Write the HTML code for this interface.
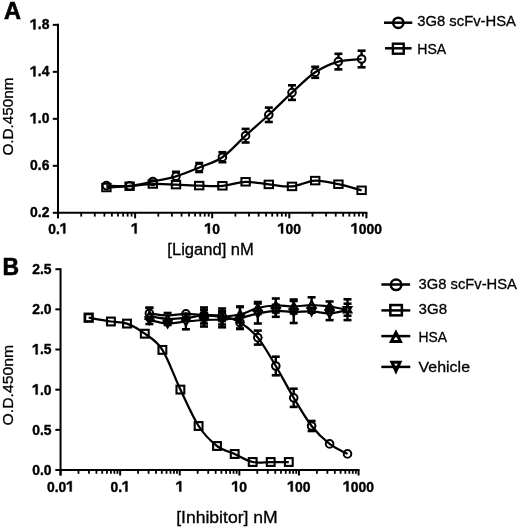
<!DOCTYPE html>
<html><head><meta charset="utf-8"><style>
html,body{margin:0;padding:0;background:#fff;}
svg{display:block;will-change:transform;}
text{font-family:"Liberation Sans", sans-serif;fill:#000;stroke:none;}
</style></head><body>
<svg width="520" height="527" viewBox="0 0 520 527">
<rect width="520" height="527" fill="#fff"/>
<g stroke="#000" fill="none" stroke-linecap="butt">
<line x1="58.00" y1="23.85" x2="58.00" y2="218.30" stroke-width="2"/>
<line x1="52.80" y1="212.80" x2="58.00" y2="212.80" stroke-width="2"/>
<text x="30.08" y="217.40" font-size="15.0" font-weight="bold" text-anchor="start" textLength="7.73" lengthAdjust="spacingAndGlyphs" style="stroke:#000;stroke-width:0.4px">0</text>
<text x="37.81" y="217.40" font-size="15.0" font-weight="bold" text-anchor="start" textLength="3.86" lengthAdjust="spacingAndGlyphs" style="stroke:#000;stroke-width:0.4px">.</text>
<text x="41.67" y="217.40" font-size="15.0" font-weight="bold" text-anchor="start" textLength="7.73" lengthAdjust="spacingAndGlyphs" style="stroke:#000;stroke-width:0.4px">2</text>
<line x1="52.80" y1="165.81" x2="58.00" y2="165.81" stroke-width="2"/>
<text x="30.08" y="170.41" font-size="15.0" font-weight="bold" text-anchor="start" textLength="7.73" lengthAdjust="spacingAndGlyphs" style="stroke:#000;stroke-width:0.4px">0</text>
<text x="37.81" y="170.41" font-size="15.0" font-weight="bold" text-anchor="start" textLength="3.86" lengthAdjust="spacingAndGlyphs" style="stroke:#000;stroke-width:0.4px">.</text>
<text x="41.67" y="170.41" font-size="15.0" font-weight="bold" text-anchor="start" textLength="7.73" lengthAdjust="spacingAndGlyphs" style="stroke:#000;stroke-width:0.4px">6</text>
<line x1="52.80" y1="118.82" x2="58.00" y2="118.82" stroke-width="2"/>
<path d="M790,0 L495,0 L495,1120 L70,900 L70,1160 L505,1409 L790,1409 Z" transform="translate(30.08,123.42) scale(0.00679,-0.00732)" fill="#000" stroke="#000" stroke-width="0.4" vector-effect="non-scaling-stroke"/>
<text x="37.81" y="123.42" font-size="15.0" font-weight="bold" text-anchor="start" textLength="3.86" lengthAdjust="spacingAndGlyphs" style="stroke:#000;stroke-width:0.4px">.</text>
<text x="41.67" y="123.42" font-size="15.0" font-weight="bold" text-anchor="start" textLength="7.73" lengthAdjust="spacingAndGlyphs" style="stroke:#000;stroke-width:0.4px">0</text>
<line x1="52.80" y1="71.84" x2="58.00" y2="71.84" stroke-width="2"/>
<path d="M790,0 L495,0 L495,1120 L70,900 L70,1160 L505,1409 L790,1409 Z" transform="translate(30.08,76.44) scale(0.00679,-0.00732)" fill="#000" stroke="#000" stroke-width="0.4" vector-effect="non-scaling-stroke"/>
<text x="37.81" y="76.44" font-size="15.0" font-weight="bold" text-anchor="start" textLength="3.86" lengthAdjust="spacingAndGlyphs" style="stroke:#000;stroke-width:0.4px">.</text>
<text x="41.67" y="76.44" font-size="15.0" font-weight="bold" text-anchor="start" textLength="7.73" lengthAdjust="spacingAndGlyphs" style="stroke:#000;stroke-width:0.4px">4</text>
<line x1="52.80" y1="24.85" x2="58.00" y2="24.85" stroke-width="2"/>
<path d="M790,0 L495,0 L495,1120 L70,900 L70,1160 L505,1409 L790,1409 Z" transform="translate(30.08,29.45) scale(0.00679,-0.00732)" fill="#000" stroke="#000" stroke-width="0.4" vector-effect="non-scaling-stroke"/>
<text x="37.81" y="29.45" font-size="15.0" font-weight="bold" text-anchor="start" textLength="3.86" lengthAdjust="spacingAndGlyphs" style="stroke:#000;stroke-width:0.4px">.</text>
<text x="41.67" y="29.45" font-size="15.0" font-weight="bold" text-anchor="start" textLength="7.73" lengthAdjust="spacingAndGlyphs" style="stroke:#000;stroke-width:0.4px">8</text>
<line x1="57.00" y1="212.80" x2="367.40" y2="212.80" stroke-width="2"/>
<line x1="58.00" y1="212.80" x2="58.00" y2="218.30" stroke-width="2"/>
<text x="48.34" y="233.50" font-size="15.0" font-weight="bold" text-anchor="start" textLength="7.73" lengthAdjust="spacingAndGlyphs" style="stroke:#000;stroke-width:0.4px">0</text>
<text x="56.07" y="233.50" font-size="15.0" font-weight="bold" text-anchor="start" textLength="3.86" lengthAdjust="spacingAndGlyphs" style="stroke:#000;stroke-width:0.4px">.</text>
<path d="M790,0 L495,0 L495,1120 L70,900 L70,1160 L505,1409 L790,1409 Z" transform="translate(59.93,233.50) scale(0.00679,-0.00732)" fill="#000" stroke="#000" stroke-width="0.4" vector-effect="non-scaling-stroke"/>
<line x1="81.21" y1="212.80" x2="81.21" y2="216.60" stroke-width="1.8"/>
<line x1="94.79" y1="212.80" x2="94.79" y2="216.60" stroke-width="1.8"/>
<line x1="104.42" y1="212.80" x2="104.42" y2="216.60" stroke-width="1.8"/>
<line x1="111.89" y1="212.80" x2="111.89" y2="216.60" stroke-width="1.8"/>
<line x1="118.00" y1="212.80" x2="118.00" y2="216.60" stroke-width="1.8"/>
<line x1="123.16" y1="212.80" x2="123.16" y2="216.60" stroke-width="1.8"/>
<line x1="127.63" y1="212.80" x2="127.63" y2="216.60" stroke-width="1.8"/>
<line x1="131.57" y1="212.80" x2="131.57" y2="216.60" stroke-width="1.8"/>
<line x1="135.10" y1="212.80" x2="135.10" y2="218.30" stroke-width="2"/>
<path d="M790,0 L495,0 L495,1120 L70,900 L70,1160 L505,1409 L790,1409 Z" transform="translate(131.24,233.50) scale(0.00679,-0.00732)" fill="#000" stroke="#000" stroke-width="0.4" vector-effect="non-scaling-stroke"/>
<line x1="158.31" y1="212.80" x2="158.31" y2="216.60" stroke-width="1.8"/>
<line x1="171.89" y1="212.80" x2="171.89" y2="216.60" stroke-width="1.8"/>
<line x1="181.52" y1="212.80" x2="181.52" y2="216.60" stroke-width="1.8"/>
<line x1="188.99" y1="212.80" x2="188.99" y2="216.60" stroke-width="1.8"/>
<line x1="195.10" y1="212.80" x2="195.10" y2="216.60" stroke-width="1.8"/>
<line x1="200.26" y1="212.80" x2="200.26" y2="216.60" stroke-width="1.8"/>
<line x1="204.73" y1="212.80" x2="204.73" y2="216.60" stroke-width="1.8"/>
<line x1="208.67" y1="212.80" x2="208.67" y2="216.60" stroke-width="1.8"/>
<line x1="212.20" y1="212.80" x2="212.20" y2="218.30" stroke-width="2"/>
<path d="M790,0 L495,0 L495,1120 L70,900 L70,1160 L505,1409 L790,1409 Z" transform="translate(204.47,233.50) scale(0.00679,-0.00732)" fill="#000" stroke="#000" stroke-width="0.4" vector-effect="non-scaling-stroke"/>
<text x="212.20" y="233.50" font-size="15.0" font-weight="bold" text-anchor="start" textLength="7.73" lengthAdjust="spacingAndGlyphs" style="stroke:#000;stroke-width:0.4px">0</text>
<line x1="235.41" y1="212.80" x2="235.41" y2="216.60" stroke-width="1.8"/>
<line x1="248.99" y1="212.80" x2="248.99" y2="216.60" stroke-width="1.8"/>
<line x1="258.62" y1="212.80" x2="258.62" y2="216.60" stroke-width="1.8"/>
<line x1="266.09" y1="212.80" x2="266.09" y2="216.60" stroke-width="1.8"/>
<line x1="272.20" y1="212.80" x2="272.20" y2="216.60" stroke-width="1.8"/>
<line x1="277.36" y1="212.80" x2="277.36" y2="216.60" stroke-width="1.8"/>
<line x1="281.83" y1="212.80" x2="281.83" y2="216.60" stroke-width="1.8"/>
<line x1="285.77" y1="212.80" x2="285.77" y2="216.60" stroke-width="1.8"/>
<line x1="289.30" y1="212.80" x2="289.30" y2="218.30" stroke-width="2"/>
<path d="M790,0 L495,0 L495,1120 L70,900 L70,1160 L505,1409 L790,1409 Z" transform="translate(277.71,233.50) scale(0.00679,-0.00732)" fill="#000" stroke="#000" stroke-width="0.4" vector-effect="non-scaling-stroke"/>
<text x="285.44" y="233.50" font-size="15.0" font-weight="bold" text-anchor="start" textLength="7.73" lengthAdjust="spacingAndGlyphs" style="stroke:#000;stroke-width:0.4px">0</text>
<text x="293.16" y="233.50" font-size="15.0" font-weight="bold" text-anchor="start" textLength="7.73" lengthAdjust="spacingAndGlyphs" style="stroke:#000;stroke-width:0.4px">0</text>
<line x1="312.51" y1="212.80" x2="312.51" y2="216.60" stroke-width="1.8"/>
<line x1="326.09" y1="212.80" x2="326.09" y2="216.60" stroke-width="1.8"/>
<line x1="335.72" y1="212.80" x2="335.72" y2="216.60" stroke-width="1.8"/>
<line x1="343.19" y1="212.80" x2="343.19" y2="216.60" stroke-width="1.8"/>
<line x1="349.30" y1="212.80" x2="349.30" y2="216.60" stroke-width="1.8"/>
<line x1="354.46" y1="212.80" x2="354.46" y2="216.60" stroke-width="1.8"/>
<line x1="358.93" y1="212.80" x2="358.93" y2="216.60" stroke-width="1.8"/>
<line x1="362.87" y1="212.80" x2="362.87" y2="216.60" stroke-width="1.8"/>
<line x1="366.40" y1="212.80" x2="366.40" y2="218.30" stroke-width="2"/>
<path d="M790,0 L495,0 L495,1120 L70,900 L70,1160 L505,1409 L790,1409 Z" transform="translate(350.94,233.50) scale(0.00679,-0.00732)" fill="#000" stroke="#000" stroke-width="0.4" vector-effect="non-scaling-stroke"/>
<text x="358.67" y="233.50" font-size="15.0" font-weight="bold" text-anchor="start" textLength="7.73" lengthAdjust="spacingAndGlyphs" style="stroke:#000;stroke-width:0.4px">0</text>
<text x="366.40" y="233.50" font-size="15.0" font-weight="bold" text-anchor="start" textLength="7.73" lengthAdjust="spacingAndGlyphs" style="stroke:#000;stroke-width:0.4px">0</text>
<text x="374.13" y="233.50" font-size="15.0" font-weight="bold" text-anchor="start" textLength="7.73" lengthAdjust="spacingAndGlyphs" style="stroke:#000;stroke-width:0.4px">0</text>
<text x="210.60" y="255.30" font-size="16" font-weight="normal" text-anchor="middle" textLength="86.5" lengthAdjust="spacingAndGlyphs" style="stroke:#000;stroke-width:0.3px">[Ligand] nM</text>
<text transform="translate(13.3,116.6) rotate(-90)" x="0" y="0" font-size="15.2" text-anchor="middle" textLength="78" lengthAdjust="spacingAndGlyphs" style="stroke:#000;stroke-width:0.3px">O.D.450nm</text>
<text x="4.00" y="19.10" font-size="24.6" font-weight="bold" text-anchor="start" textLength="17.0" lengthAdjust="spacingAndGlyphs" style="stroke:#000;stroke-width:0.6px">A</text>
<path d="M106.40,187.50 C110.27,187.28 121.87,186.78 129.60,186.20 C137.33,185.62 145.07,184.27 152.80,184.00 C160.53,183.73 168.27,184.33 176.00,184.60 C183.73,184.87 191.47,185.40 199.20,185.60 C206.93,185.80 214.67,186.43 222.40,185.80 C230.13,185.17 237.87,182.03 245.60,181.80 C253.33,181.57 261.07,183.63 268.80,184.40 C276.53,185.17 284.27,187.03 292.00,186.40 C299.73,185.77 307.47,180.97 315.20,180.60 C322.93,180.23 330.67,182.58 338.40,184.20 C346.13,185.82 357.73,189.28 361.60,190.30" fill="none" stroke-width="2.25" stroke-linejoin="round"/>
<path d="M106.40,185.60 C110.27,185.63 121.87,186.48 129.60,185.80 C137.33,185.12 145.07,183.08 152.80,181.50 C160.53,179.92 168.27,178.63 176.00,176.30 C183.73,173.97 191.47,170.68 199.20,167.50 C206.93,164.32 214.67,162.50 222.40,157.20 C230.13,151.90 237.87,142.77 245.60,135.70 C253.33,128.63 261.07,121.98 268.80,114.80 C276.53,107.62 284.27,99.68 292.00,92.60 C299.73,85.52 307.47,77.47 315.20,72.30 C322.93,67.13 330.67,63.82 338.40,61.60 C346.13,59.38 357.73,59.43 361.60,59.00" fill="none" stroke-width="2.25" stroke-linejoin="round"/>
<rect x="102.20" y="183.75" width="8.4" height="7.5" fill="none" stroke-width="2.0"/>
<rect x="125.40" y="182.45" width="8.4" height="7.5" fill="none" stroke-width="2.0"/>
<rect x="148.60" y="180.25" width="8.4" height="7.5" fill="none" stroke-width="2.0"/>
<rect x="171.80" y="180.85" width="8.4" height="7.5" fill="none" stroke-width="2.0"/>
<rect x="195.00" y="181.85" width="8.4" height="7.5" fill="none" stroke-width="2.0"/>
<rect x="218.20" y="182.05" width="8.4" height="7.5" fill="none" stroke-width="2.0"/>
<rect x="241.40" y="178.05" width="8.4" height="7.5" fill="none" stroke-width="2.0"/>
<rect x="264.60" y="180.65" width="8.4" height="7.5" fill="none" stroke-width="2.0"/>
<rect x="287.80" y="182.65" width="8.4" height="7.5" fill="none" stroke-width="2.0"/>
<rect x="311.00" y="176.85" width="8.4" height="7.5" fill="none" stroke-width="2.0"/>
<rect x="334.20" y="180.45" width="8.4" height="7.5" fill="none" stroke-width="2.0"/>
<rect x="357.40" y="186.55" width="8.4" height="7.5" fill="none" stroke-width="2.0"/>
<circle cx="106.40" cy="185.60" r="3.8" fill="none" stroke-width="2.0"/>
<circle cx="129.60" cy="185.80" r="3.8" fill="none" stroke-width="2.0"/>
<circle cx="152.80" cy="181.50" r="3.8" fill="none" stroke-width="2.0"/>
<line x1="176.00" y1="172.50" x2="176.00" y2="171.80" stroke-width="2.4"/>
<line x1="172.00" y1="171.80" x2="180.00" y2="171.80" stroke-width="2.6"/>
<line x1="176.00" y1="180.10" x2="176.00" y2="180.80" stroke-width="2.4"/>
<line x1="172.00" y1="180.80" x2="180.00" y2="180.80" stroke-width="2.6"/>
<circle cx="176.00" cy="176.30" r="3.8" fill="none" stroke-width="2.0"/>
<line x1="199.20" y1="163.70" x2="199.20" y2="163.00" stroke-width="2.4"/>
<line x1="195.20" y1="163.00" x2="203.20" y2="163.00" stroke-width="2.6"/>
<line x1="199.20" y1="171.30" x2="199.20" y2="172.00" stroke-width="2.4"/>
<line x1="195.20" y1="172.00" x2="203.20" y2="172.00" stroke-width="2.6"/>
<circle cx="199.20" cy="167.50" r="3.8" fill="none" stroke-width="2.0"/>
<line x1="222.40" y1="153.40" x2="222.40" y2="152.20" stroke-width="2.4"/>
<line x1="218.40" y1="152.20" x2="226.40" y2="152.20" stroke-width="2.6"/>
<line x1="222.40" y1="161.00" x2="222.40" y2="162.20" stroke-width="2.4"/>
<line x1="218.40" y1="162.20" x2="226.40" y2="162.20" stroke-width="2.6"/>
<circle cx="222.40" cy="157.20" r="3.8" fill="none" stroke-width="2.0"/>
<line x1="245.60" y1="131.90" x2="245.60" y2="128.90" stroke-width="2.4"/>
<line x1="241.60" y1="128.90" x2="249.60" y2="128.90" stroke-width="2.6"/>
<line x1="245.60" y1="139.50" x2="245.60" y2="142.50" stroke-width="2.4"/>
<line x1="241.60" y1="142.50" x2="249.60" y2="142.50" stroke-width="2.6"/>
<circle cx="245.60" cy="135.70" r="3.8" fill="none" stroke-width="2.0"/>
<line x1="268.80" y1="111.00" x2="268.80" y2="107.60" stroke-width="2.4"/>
<line x1="264.80" y1="107.60" x2="272.80" y2="107.60" stroke-width="2.6"/>
<line x1="268.80" y1="118.60" x2="268.80" y2="122.00" stroke-width="2.4"/>
<line x1="264.80" y1="122.00" x2="272.80" y2="122.00" stroke-width="2.6"/>
<circle cx="268.80" cy="114.80" r="3.8" fill="none" stroke-width="2.0"/>
<line x1="292.00" y1="88.80" x2="292.00" y2="85.30" stroke-width="2.4"/>
<line x1="288.00" y1="85.30" x2="296.00" y2="85.30" stroke-width="2.6"/>
<line x1="292.00" y1="96.40" x2="292.00" y2="99.90" stroke-width="2.4"/>
<line x1="288.00" y1="99.90" x2="296.00" y2="99.90" stroke-width="2.6"/>
<circle cx="292.00" cy="92.60" r="3.8" fill="none" stroke-width="2.0"/>
<line x1="315.20" y1="68.50" x2="315.20" y2="66.80" stroke-width="2.4"/>
<line x1="311.20" y1="66.80" x2="319.20" y2="66.80" stroke-width="2.6"/>
<line x1="315.20" y1="76.10" x2="315.20" y2="77.80" stroke-width="2.4"/>
<line x1="311.20" y1="77.80" x2="319.20" y2="77.80" stroke-width="2.6"/>
<circle cx="315.20" cy="72.30" r="3.8" fill="none" stroke-width="2.0"/>
<line x1="338.40" y1="57.80" x2="338.40" y2="53.80" stroke-width="2.4"/>
<line x1="334.40" y1="53.80" x2="342.40" y2="53.80" stroke-width="2.6"/>
<line x1="338.40" y1="65.40" x2="338.40" y2="69.40" stroke-width="2.4"/>
<line x1="334.40" y1="69.40" x2="342.40" y2="69.40" stroke-width="2.6"/>
<circle cx="338.40" cy="61.60" r="3.8" fill="none" stroke-width="2.0"/>
<line x1="361.60" y1="55.20" x2="361.60" y2="50.70" stroke-width="2.4"/>
<line x1="357.60" y1="50.70" x2="365.60" y2="50.70" stroke-width="2.6"/>
<line x1="361.60" y1="62.80" x2="361.60" y2="67.30" stroke-width="2.4"/>
<line x1="357.60" y1="67.30" x2="365.60" y2="67.30" stroke-width="2.6"/>
<circle cx="361.60" cy="59.00" r="3.8" fill="none" stroke-width="2.0"/>
<line x1="384.00" y1="22.70" x2="412.30" y2="22.70" stroke-width="2.5"/>
<circle cx="398.30" cy="22.80" r="5.15" fill="none" stroke-width="2.5"/>
<text x="417.20" y="25.80" font-size="15.3" font-weight="normal" text-anchor="start" textLength="98.8" lengthAdjust="spacingAndGlyphs" style="stroke:#000;stroke-width:0.3px">3G8 scFv-HSA</text>
<line x1="385.00" y1="48.30" x2="411.60" y2="48.30" stroke-width="2.5"/>
<rect x="392.90" y="43.70" width="10.8" height="10.0" fill="none" stroke-width="2.4"/>
<text x="417.30" y="53.60" font-size="15.3" font-weight="normal" text-anchor="start" textLength="28.9" lengthAdjust="spacingAndGlyphs" style="stroke:#000;stroke-width:0.3px">HSA</text>
<line x1="60.55" y1="268.20" x2="60.55" y2="475.50" stroke-width="2"/>
<line x1="55.35" y1="470.00" x2="60.55" y2="470.00" stroke-width="2"/>
<text x="32.28" y="474.90" font-size="15.0" font-weight="bold" text-anchor="start" textLength="7.73" lengthAdjust="spacingAndGlyphs" style="stroke:#000;stroke-width:0.4px">0</text>
<text x="40.01" y="474.90" font-size="15.0" font-weight="bold" text-anchor="start" textLength="3.86" lengthAdjust="spacingAndGlyphs" style="stroke:#000;stroke-width:0.4px">.</text>
<text x="43.87" y="474.90" font-size="15.0" font-weight="bold" text-anchor="start" textLength="7.73" lengthAdjust="spacingAndGlyphs" style="stroke:#000;stroke-width:0.4px">0</text>
<line x1="55.35" y1="429.84" x2="60.55" y2="429.84" stroke-width="2"/>
<text x="32.28" y="434.74" font-size="15.0" font-weight="bold" text-anchor="start" textLength="7.73" lengthAdjust="spacingAndGlyphs" style="stroke:#000;stroke-width:0.4px">0</text>
<text x="40.01" y="434.74" font-size="15.0" font-weight="bold" text-anchor="start" textLength="3.86" lengthAdjust="spacingAndGlyphs" style="stroke:#000;stroke-width:0.4px">.</text>
<text x="43.87" y="434.74" font-size="15.0" font-weight="bold" text-anchor="start" textLength="7.73" lengthAdjust="spacingAndGlyphs" style="stroke:#000;stroke-width:0.4px">5</text>
<line x1="55.35" y1="389.68" x2="60.55" y2="389.68" stroke-width="2"/>
<path d="M790,0 L495,0 L495,1120 L70,900 L70,1160 L505,1409 L790,1409 Z" transform="translate(32.28,394.58) scale(0.00679,-0.00732)" fill="#000" stroke="#000" stroke-width="0.4" vector-effect="non-scaling-stroke"/>
<text x="40.01" y="394.58" font-size="15.0" font-weight="bold" text-anchor="start" textLength="3.86" lengthAdjust="spacingAndGlyphs" style="stroke:#000;stroke-width:0.4px">.</text>
<text x="43.87" y="394.58" font-size="15.0" font-weight="bold" text-anchor="start" textLength="7.73" lengthAdjust="spacingAndGlyphs" style="stroke:#000;stroke-width:0.4px">0</text>
<line x1="55.35" y1="349.52" x2="60.55" y2="349.52" stroke-width="2"/>
<path d="M790,0 L495,0 L495,1120 L70,900 L70,1160 L505,1409 L790,1409 Z" transform="translate(32.28,354.42) scale(0.00679,-0.00732)" fill="#000" stroke="#000" stroke-width="0.4" vector-effect="non-scaling-stroke"/>
<text x="40.01" y="354.42" font-size="15.0" font-weight="bold" text-anchor="start" textLength="3.86" lengthAdjust="spacingAndGlyphs" style="stroke:#000;stroke-width:0.4px">.</text>
<text x="43.87" y="354.42" font-size="15.0" font-weight="bold" text-anchor="start" textLength="7.73" lengthAdjust="spacingAndGlyphs" style="stroke:#000;stroke-width:0.4px">5</text>
<line x1="55.35" y1="309.36" x2="60.55" y2="309.36" stroke-width="2"/>
<text x="32.28" y="314.26" font-size="15.0" font-weight="bold" text-anchor="start" textLength="7.73" lengthAdjust="spacingAndGlyphs" style="stroke:#000;stroke-width:0.4px">2</text>
<text x="40.01" y="314.26" font-size="15.0" font-weight="bold" text-anchor="start" textLength="3.86" lengthAdjust="spacingAndGlyphs" style="stroke:#000;stroke-width:0.4px">.</text>
<text x="43.87" y="314.26" font-size="15.0" font-weight="bold" text-anchor="start" textLength="7.73" lengthAdjust="spacingAndGlyphs" style="stroke:#000;stroke-width:0.4px">0</text>
<line x1="55.35" y1="269.20" x2="60.55" y2="269.20" stroke-width="2"/>
<text x="32.28" y="274.10" font-size="15.0" font-weight="bold" text-anchor="start" textLength="7.73" lengthAdjust="spacingAndGlyphs" style="stroke:#000;stroke-width:0.4px">2</text>
<text x="40.01" y="274.10" font-size="15.0" font-weight="bold" text-anchor="start" textLength="3.86" lengthAdjust="spacingAndGlyphs" style="stroke:#000;stroke-width:0.4px">.</text>
<text x="43.87" y="274.10" font-size="15.0" font-weight="bold" text-anchor="start" textLength="7.73" lengthAdjust="spacingAndGlyphs" style="stroke:#000;stroke-width:0.4px">5</text>
<line x1="59.55" y1="470.00" x2="359.55" y2="470.00" stroke-width="2"/>
<line x1="60.55" y1="470.00" x2="60.55" y2="475.50" stroke-width="2"/>
<text x="47.03" y="491.50" font-size="15.0" font-weight="bold" text-anchor="start" textLength="7.73" lengthAdjust="spacingAndGlyphs" style="stroke:#000;stroke-width:0.4px">0</text>
<text x="54.75" y="491.50" font-size="15.0" font-weight="bold" text-anchor="start" textLength="3.86" lengthAdjust="spacingAndGlyphs" style="stroke:#000;stroke-width:0.4px">.</text>
<text x="58.62" y="491.50" font-size="15.0" font-weight="bold" text-anchor="start" textLength="7.73" lengthAdjust="spacingAndGlyphs" style="stroke:#000;stroke-width:0.4px">0</text>
<path d="M790,0 L495,0 L495,1120 L70,900 L70,1160 L505,1409 L790,1409 Z" transform="translate(66.35,491.50) scale(0.00679,-0.00732)" fill="#000" stroke="#000" stroke-width="0.4" vector-effect="non-scaling-stroke"/>
<line x1="78.49" y1="470.00" x2="78.49" y2="473.80" stroke-width="1.8"/>
<line x1="88.99" y1="470.00" x2="88.99" y2="473.80" stroke-width="1.8"/>
<line x1="96.43" y1="470.00" x2="96.43" y2="473.80" stroke-width="1.8"/>
<line x1="102.21" y1="470.00" x2="102.21" y2="473.80" stroke-width="1.8"/>
<line x1="106.93" y1="470.00" x2="106.93" y2="473.80" stroke-width="1.8"/>
<line x1="110.92" y1="470.00" x2="110.92" y2="473.80" stroke-width="1.8"/>
<line x1="114.37" y1="470.00" x2="114.37" y2="473.80" stroke-width="1.8"/>
<line x1="117.42" y1="470.00" x2="117.42" y2="473.80" stroke-width="1.8"/>
<line x1="120.15" y1="470.00" x2="120.15" y2="475.50" stroke-width="2"/>
<text x="110.49" y="491.50" font-size="15.0" font-weight="bold" text-anchor="start" textLength="7.73" lengthAdjust="spacingAndGlyphs" style="stroke:#000;stroke-width:0.4px">0</text>
<text x="118.22" y="491.50" font-size="15.0" font-weight="bold" text-anchor="start" textLength="3.86" lengthAdjust="spacingAndGlyphs" style="stroke:#000;stroke-width:0.4px">.</text>
<path d="M790,0 L495,0 L495,1120 L70,900 L70,1160 L505,1409 L790,1409 Z" transform="translate(122.08,491.50) scale(0.00679,-0.00732)" fill="#000" stroke="#000" stroke-width="0.4" vector-effect="non-scaling-stroke"/>
<line x1="138.09" y1="470.00" x2="138.09" y2="473.80" stroke-width="1.8"/>
<line x1="148.59" y1="470.00" x2="148.59" y2="473.80" stroke-width="1.8"/>
<line x1="156.03" y1="470.00" x2="156.03" y2="473.80" stroke-width="1.8"/>
<line x1="161.81" y1="470.00" x2="161.81" y2="473.80" stroke-width="1.8"/>
<line x1="166.53" y1="470.00" x2="166.53" y2="473.80" stroke-width="1.8"/>
<line x1="170.52" y1="470.00" x2="170.52" y2="473.80" stroke-width="1.8"/>
<line x1="173.97" y1="470.00" x2="173.97" y2="473.80" stroke-width="1.8"/>
<line x1="177.02" y1="470.00" x2="177.02" y2="473.80" stroke-width="1.8"/>
<line x1="179.75" y1="470.00" x2="179.75" y2="475.50" stroke-width="2"/>
<path d="M790,0 L495,0 L495,1120 L70,900 L70,1160 L505,1409 L790,1409 Z" transform="translate(175.89,491.50) scale(0.00679,-0.00732)" fill="#000" stroke="#000" stroke-width="0.4" vector-effect="non-scaling-stroke"/>
<line x1="197.69" y1="470.00" x2="197.69" y2="473.80" stroke-width="1.8"/>
<line x1="208.19" y1="470.00" x2="208.19" y2="473.80" stroke-width="1.8"/>
<line x1="215.63" y1="470.00" x2="215.63" y2="473.80" stroke-width="1.8"/>
<line x1="221.41" y1="470.00" x2="221.41" y2="473.80" stroke-width="1.8"/>
<line x1="226.13" y1="470.00" x2="226.13" y2="473.80" stroke-width="1.8"/>
<line x1="230.12" y1="470.00" x2="230.12" y2="473.80" stroke-width="1.8"/>
<line x1="233.57" y1="470.00" x2="233.57" y2="473.80" stroke-width="1.8"/>
<line x1="236.62" y1="470.00" x2="236.62" y2="473.80" stroke-width="1.8"/>
<line x1="239.35" y1="470.00" x2="239.35" y2="475.50" stroke-width="2"/>
<path d="M790,0 L495,0 L495,1120 L70,900 L70,1160 L505,1409 L790,1409 Z" transform="translate(231.62,491.50) scale(0.00679,-0.00732)" fill="#000" stroke="#000" stroke-width="0.4" vector-effect="non-scaling-stroke"/>
<text x="239.35" y="491.50" font-size="15.0" font-weight="bold" text-anchor="start" textLength="7.73" lengthAdjust="spacingAndGlyphs" style="stroke:#000;stroke-width:0.4px">0</text>
<line x1="257.29" y1="470.00" x2="257.29" y2="473.80" stroke-width="1.8"/>
<line x1="267.79" y1="470.00" x2="267.79" y2="473.80" stroke-width="1.8"/>
<line x1="275.23" y1="470.00" x2="275.23" y2="473.80" stroke-width="1.8"/>
<line x1="281.01" y1="470.00" x2="281.01" y2="473.80" stroke-width="1.8"/>
<line x1="285.73" y1="470.00" x2="285.73" y2="473.80" stroke-width="1.8"/>
<line x1="289.72" y1="470.00" x2="289.72" y2="473.80" stroke-width="1.8"/>
<line x1="293.17" y1="470.00" x2="293.17" y2="473.80" stroke-width="1.8"/>
<line x1="296.22" y1="470.00" x2="296.22" y2="473.80" stroke-width="1.8"/>
<line x1="298.95" y1="470.00" x2="298.95" y2="475.50" stroke-width="2"/>
<path d="M790,0 L495,0 L495,1120 L70,900 L70,1160 L505,1409 L790,1409 Z" transform="translate(287.36,491.50) scale(0.00679,-0.00732)" fill="#000" stroke="#000" stroke-width="0.4" vector-effect="non-scaling-stroke"/>
<text x="295.09" y="491.50" font-size="15.0" font-weight="bold" text-anchor="start" textLength="7.73" lengthAdjust="spacingAndGlyphs" style="stroke:#000;stroke-width:0.4px">0</text>
<text x="302.81" y="491.50" font-size="15.0" font-weight="bold" text-anchor="start" textLength="7.73" lengthAdjust="spacingAndGlyphs" style="stroke:#000;stroke-width:0.4px">0</text>
<line x1="316.89" y1="470.00" x2="316.89" y2="473.80" stroke-width="1.8"/>
<line x1="327.39" y1="470.00" x2="327.39" y2="473.80" stroke-width="1.8"/>
<line x1="334.83" y1="470.00" x2="334.83" y2="473.80" stroke-width="1.8"/>
<line x1="340.61" y1="470.00" x2="340.61" y2="473.80" stroke-width="1.8"/>
<line x1="345.33" y1="470.00" x2="345.33" y2="473.80" stroke-width="1.8"/>
<line x1="349.32" y1="470.00" x2="349.32" y2="473.80" stroke-width="1.8"/>
<line x1="352.77" y1="470.00" x2="352.77" y2="473.80" stroke-width="1.8"/>
<line x1="355.82" y1="470.00" x2="355.82" y2="473.80" stroke-width="1.8"/>
<line x1="358.55" y1="470.00" x2="358.55" y2="475.50" stroke-width="2"/>
<path d="M790,0 L495,0 L495,1120 L70,900 L70,1160 L505,1409 L790,1409 Z" transform="translate(343.09,491.50) scale(0.00679,-0.00732)" fill="#000" stroke="#000" stroke-width="0.4" vector-effect="non-scaling-stroke"/>
<text x="350.82" y="491.50" font-size="15.0" font-weight="bold" text-anchor="start" textLength="7.73" lengthAdjust="spacingAndGlyphs" style="stroke:#000;stroke-width:0.4px">0</text>
<text x="358.55" y="491.50" font-size="15.0" font-weight="bold" text-anchor="start" textLength="7.73" lengthAdjust="spacingAndGlyphs" style="stroke:#000;stroke-width:0.4px">0</text>
<text x="366.28" y="491.50" font-size="15.0" font-weight="bold" text-anchor="start" textLength="7.73" lengthAdjust="spacingAndGlyphs" style="stroke:#000;stroke-width:0.4px">0</text>
<text x="226.90" y="523.30" font-size="16" font-weight="normal" text-anchor="middle" textLength="101.5" lengthAdjust="spacingAndGlyphs" style="stroke:#000;stroke-width:0.3px">[Inhibitor] nM</text>
<text transform="translate(13.2,385.2) rotate(-90)" x="0" y="0" font-size="15.2" text-anchor="middle" textLength="80.5" lengthAdjust="spacingAndGlyphs" style="stroke:#000;stroke-width:0.3px">O.D.450nm</text>
<text x="2.60" y="275.10" font-size="24.8" font-weight="bold" text-anchor="start" textLength="16.6" lengthAdjust="spacingAndGlyphs" style="stroke:#000;stroke-width:0.6px">B</text>
<path d="M149.40,316.00 C152.43,316.50 161.52,318.67 167.60,319.00 C173.68,319.33 179.83,318.58 185.90,318.00 C191.97,317.42 197.97,315.75 204.00,315.50 C210.03,315.25 216.10,316.67 222.10,316.50 C228.10,316.33 234.05,315.92 240.00,314.50 C245.95,313.08 251.83,309.50 257.80,308.00 C263.77,306.50 269.82,305.75 275.80,305.50 C281.78,305.25 287.73,306.58 293.70,306.50 C299.67,306.42 305.62,305.00 311.60,305.00 C317.58,305.00 323.62,305.72 329.60,306.50 C335.58,307.28 344.52,309.17 347.50,309.70" fill="none" stroke-width="2.25" stroke-linejoin="round"/>
<path d="M149.40,320.00 C152.43,320.58 161.52,323.25 167.60,323.50 C173.68,323.75 179.83,322.08 185.90,321.50 C191.97,320.92 197.97,320.33 204.00,320.00 C210.03,319.67 216.10,319.83 222.10,319.50 C228.10,319.17 234.05,319.00 240.00,318.00 C245.95,317.00 251.83,314.70 257.80,313.50 C263.77,312.30 269.82,311.05 275.80,310.80 C281.78,310.55 287.73,311.92 293.70,312.00 C299.67,312.08 305.62,311.05 311.60,311.30 C317.58,311.55 323.62,313.77 329.60,313.50 C335.58,313.23 344.52,310.33 347.50,309.70" fill="none" stroke-width="2.25" stroke-linejoin="round"/>
<path d="M149.40,313.40 C152.43,313.75 161.52,315.42 167.60,315.50 C173.68,315.58 179.83,313.98 185.90,313.90 C191.97,313.82 197.97,314.65 204.00,315.00 C210.03,315.35 216.10,314.75 222.10,316.00 C228.10,317.25 234.05,318.90 240.00,322.50 C245.95,326.10 251.83,330.35 257.80,337.60 C263.77,344.85 269.82,355.97 275.80,366.00 C281.78,376.03 287.73,387.80 293.70,397.80 C299.67,407.80 305.62,418.32 311.60,426.00 C317.58,433.68 323.62,439.25 329.60,443.90 C335.58,448.55 344.52,452.23 347.50,453.90" fill="none" stroke-width="2.25" stroke-linejoin="round"/>
<line x1="149.40" y1="313.00" x2="149.40" y2="308.00" stroke-width="2.4"/>
<line x1="145.40" y1="308.00" x2="153.40" y2="308.00" stroke-width="2.6"/>
<line x1="149.40" y1="319.00" x2="149.40" y2="324.00" stroke-width="2.4"/>
<line x1="145.40" y1="324.00" x2="153.40" y2="324.00" stroke-width="2.6"/>
<line x1="167.60" y1="316.00" x2="167.60" y2="313.00" stroke-width="2.4"/>
<line x1="163.60" y1="313.00" x2="171.60" y2="313.00" stroke-width="2.6"/>
<line x1="167.60" y1="322.00" x2="167.60" y2="325.00" stroke-width="2.4"/>
<line x1="163.60" y1="325.00" x2="171.60" y2="325.00" stroke-width="2.6"/>
<line x1="204.00" y1="312.50" x2="204.00" y2="307.50" stroke-width="2.4"/>
<line x1="200.00" y1="307.50" x2="208.00" y2="307.50" stroke-width="2.6"/>
<line x1="204.00" y1="318.50" x2="204.00" y2="323.50" stroke-width="2.4"/>
<line x1="200.00" y1="323.50" x2="208.00" y2="323.50" stroke-width="2.6"/>
<line x1="222.10" y1="313.50" x2="222.10" y2="308.50" stroke-width="2.4"/>
<line x1="218.10" y1="308.50" x2="226.10" y2="308.50" stroke-width="2.6"/>
<line x1="222.10" y1="319.50" x2="222.10" y2="324.50" stroke-width="2.4"/>
<line x1="218.10" y1="324.50" x2="226.10" y2="324.50" stroke-width="2.6"/>
<line x1="240.00" y1="311.50" x2="240.00" y2="306.50" stroke-width="2.4"/>
<line x1="236.00" y1="306.50" x2="244.00" y2="306.50" stroke-width="2.6"/>
<line x1="240.00" y1="317.50" x2="240.00" y2="322.50" stroke-width="2.4"/>
<line x1="236.00" y1="322.50" x2="244.00" y2="322.50" stroke-width="2.6"/>
<line x1="257.80" y1="305.00" x2="257.80" y2="302.00" stroke-width="2.4"/>
<line x1="253.80" y1="302.00" x2="261.80" y2="302.00" stroke-width="2.6"/>
<line x1="257.80" y1="311.00" x2="257.80" y2="314.00" stroke-width="2.4"/>
<line x1="253.80" y1="314.00" x2="261.80" y2="314.00" stroke-width="2.6"/>
<line x1="275.80" y1="302.50" x2="275.80" y2="298.50" stroke-width="2.4"/>
<line x1="271.80" y1="298.50" x2="279.80" y2="298.50" stroke-width="2.6"/>
<line x1="275.80" y1="308.50" x2="275.80" y2="312.50" stroke-width="2.4"/>
<line x1="271.80" y1="312.50" x2="279.80" y2="312.50" stroke-width="2.6"/>
<line x1="293.70" y1="303.50" x2="293.70" y2="299.50" stroke-width="2.4"/>
<line x1="289.70" y1="299.50" x2="297.70" y2="299.50" stroke-width="2.6"/>
<line x1="293.70" y1="309.50" x2="293.70" y2="313.50" stroke-width="2.4"/>
<line x1="289.70" y1="313.50" x2="297.70" y2="313.50" stroke-width="2.6"/>
<line x1="311.60" y1="302.00" x2="311.60" y2="297.30" stroke-width="2.4"/>
<line x1="307.60" y1="297.30" x2="315.60" y2="297.30" stroke-width="2.6"/>
<line x1="311.60" y1="308.00" x2="311.60" y2="312.70" stroke-width="2.4"/>
<line x1="307.60" y1="312.70" x2="315.60" y2="312.70" stroke-width="2.6"/>
<line x1="329.60" y1="303.50" x2="329.60" y2="301.50" stroke-width="2.4"/>
<line x1="325.60" y1="301.50" x2="333.60" y2="301.50" stroke-width="2.6"/>
<line x1="329.60" y1="309.50" x2="329.60" y2="311.50" stroke-width="2.4"/>
<line x1="325.60" y1="311.50" x2="333.60" y2="311.50" stroke-width="2.6"/>
<line x1="347.50" y1="306.70" x2="347.50" y2="303.70" stroke-width="2.4"/>
<line x1="343.50" y1="303.70" x2="351.50" y2="303.70" stroke-width="2.6"/>
<line x1="347.50" y1="312.70" x2="347.50" y2="315.70" stroke-width="2.4"/>
<line x1="343.50" y1="315.70" x2="351.50" y2="315.70" stroke-width="2.6"/>
<line x1="185.90" y1="318.50" x2="185.90" y2="313.70" stroke-width="2.4"/>
<line x1="181.90" y1="313.70" x2="189.90" y2="313.70" stroke-width="2.6"/>
<line x1="185.90" y1="324.50" x2="185.90" y2="329.30" stroke-width="2.4"/>
<line x1="181.90" y1="329.30" x2="189.90" y2="329.30" stroke-width="2.6"/>
<line x1="204.00" y1="317.00" x2="204.00" y2="313.50" stroke-width="2.4"/>
<line x1="200.00" y1="313.50" x2="208.00" y2="313.50" stroke-width="2.6"/>
<line x1="204.00" y1="323.00" x2="204.00" y2="326.50" stroke-width="2.4"/>
<line x1="200.00" y1="326.50" x2="208.00" y2="326.50" stroke-width="2.6"/>
<line x1="222.10" y1="316.50" x2="222.10" y2="311.70" stroke-width="2.4"/>
<line x1="218.10" y1="311.70" x2="226.10" y2="311.70" stroke-width="2.6"/>
<line x1="222.10" y1="322.50" x2="222.10" y2="327.30" stroke-width="2.4"/>
<line x1="218.10" y1="327.30" x2="226.10" y2="327.30" stroke-width="2.6"/>
<line x1="240.00" y1="315.00" x2="240.00" y2="307.00" stroke-width="2.4"/>
<line x1="236.00" y1="307.00" x2="244.00" y2="307.00" stroke-width="2.6"/>
<line x1="240.00" y1="321.00" x2="240.00" y2="329.00" stroke-width="2.4"/>
<line x1="236.00" y1="329.00" x2="244.00" y2="329.00" stroke-width="2.6"/>
<line x1="257.80" y1="310.50" x2="257.80" y2="303.50" stroke-width="2.4"/>
<line x1="253.80" y1="303.50" x2="261.80" y2="303.50" stroke-width="2.6"/>
<line x1="257.80" y1="316.50" x2="257.80" y2="323.50" stroke-width="2.4"/>
<line x1="253.80" y1="323.50" x2="261.80" y2="323.50" stroke-width="2.6"/>
<line x1="275.80" y1="307.80" x2="275.80" y2="304.80" stroke-width="2.4"/>
<line x1="271.80" y1="304.80" x2="279.80" y2="304.80" stroke-width="2.6"/>
<line x1="275.80" y1="313.80" x2="275.80" y2="316.80" stroke-width="2.4"/>
<line x1="271.80" y1="316.80" x2="279.80" y2="316.80" stroke-width="2.6"/>
<line x1="293.70" y1="309.00" x2="293.70" y2="301.00" stroke-width="2.4"/>
<line x1="289.70" y1="301.00" x2="297.70" y2="301.00" stroke-width="2.6"/>
<line x1="293.70" y1="315.00" x2="293.70" y2="323.00" stroke-width="2.4"/>
<line x1="289.70" y1="323.00" x2="297.70" y2="323.00" stroke-width="2.6"/>
<line x1="329.60" y1="310.50" x2="329.60" y2="306.90" stroke-width="2.4"/>
<line x1="325.60" y1="306.90" x2="333.60" y2="306.90" stroke-width="2.6"/>
<line x1="329.60" y1="316.50" x2="329.60" y2="320.10" stroke-width="2.4"/>
<line x1="325.60" y1="320.10" x2="333.60" y2="320.10" stroke-width="2.6"/>
<line x1="347.50" y1="306.70" x2="347.50" y2="299.30" stroke-width="2.4"/>
<line x1="343.50" y1="299.30" x2="351.50" y2="299.30" stroke-width="2.6"/>
<line x1="347.50" y1="312.70" x2="347.50" y2="320.10" stroke-width="2.4"/>
<line x1="343.50" y1="320.10" x2="351.50" y2="320.10" stroke-width="2.6"/>
<line x1="149.40" y1="309.60" x2="149.40" y2="307.60" stroke-width="2.4"/>
<line x1="145.40" y1="307.60" x2="153.40" y2="307.60" stroke-width="2.6"/>
<line x1="149.40" y1="317.20" x2="149.40" y2="319.20" stroke-width="2.4"/>
<line x1="145.40" y1="319.20" x2="153.40" y2="319.20" stroke-width="2.6"/>
<line x1="204.00" y1="311.20" x2="204.00" y2="310.00" stroke-width="2.4"/>
<line x1="200.00" y1="310.00" x2="208.00" y2="310.00" stroke-width="2.6"/>
<line x1="204.00" y1="318.80" x2="204.00" y2="320.00" stroke-width="2.4"/>
<line x1="200.00" y1="320.00" x2="208.00" y2="320.00" stroke-width="2.6"/>
<line x1="222.10" y1="312.20" x2="222.10" y2="311.00" stroke-width="2.4"/>
<line x1="218.10" y1="311.00" x2="226.10" y2="311.00" stroke-width="2.6"/>
<line x1="222.10" y1="319.80" x2="222.10" y2="321.00" stroke-width="2.4"/>
<line x1="218.10" y1="321.00" x2="226.10" y2="321.00" stroke-width="2.6"/>
<line x1="240.00" y1="318.70" x2="240.00" y2="316.50" stroke-width="2.4"/>
<line x1="236.00" y1="316.50" x2="244.00" y2="316.50" stroke-width="2.6"/>
<line x1="240.00" y1="326.30" x2="240.00" y2="328.50" stroke-width="2.4"/>
<line x1="236.00" y1="328.50" x2="244.00" y2="328.50" stroke-width="2.6"/>
<line x1="257.80" y1="333.80" x2="257.80" y2="330.60" stroke-width="2.4"/>
<line x1="253.80" y1="330.60" x2="261.80" y2="330.60" stroke-width="2.6"/>
<line x1="257.80" y1="341.40" x2="257.80" y2="344.60" stroke-width="2.4"/>
<line x1="253.80" y1="344.60" x2="261.80" y2="344.60" stroke-width="2.6"/>
<line x1="275.80" y1="362.20" x2="275.80" y2="356.70" stroke-width="2.4"/>
<line x1="271.80" y1="356.70" x2="279.80" y2="356.70" stroke-width="2.6"/>
<line x1="275.80" y1="369.80" x2="275.80" y2="375.30" stroke-width="2.4"/>
<line x1="271.80" y1="375.30" x2="279.80" y2="375.30" stroke-width="2.6"/>
<line x1="293.70" y1="394.00" x2="293.70" y2="388.70" stroke-width="2.4"/>
<line x1="289.70" y1="388.70" x2="297.70" y2="388.70" stroke-width="2.6"/>
<line x1="293.70" y1="401.60" x2="293.70" y2="406.90" stroke-width="2.4"/>
<line x1="289.70" y1="406.90" x2="297.70" y2="406.90" stroke-width="2.6"/>
<line x1="311.60" y1="422.20" x2="311.60" y2="421.00" stroke-width="2.4"/>
<line x1="307.60" y1="421.00" x2="315.60" y2="421.00" stroke-width="2.6"/>
<line x1="311.60" y1="429.80" x2="311.60" y2="431.00" stroke-width="2.4"/>
<line x1="307.60" y1="431.00" x2="315.60" y2="431.00" stroke-width="2.6"/>
<polygon points="149.40,312.10 153.15,318.60 145.65,318.60" fill="none" stroke-width="2.2" stroke-linejoin="miter"/>
<polygon points="167.60,315.10 171.35,321.60 163.85,321.60" fill="none" stroke-width="2.2" stroke-linejoin="miter"/>
<polygon points="185.90,314.10 189.65,320.60 182.15,320.60" fill="none" stroke-width="2.2" stroke-linejoin="miter"/>
<polygon points="204.00,311.60 207.75,318.10 200.25,318.10" fill="none" stroke-width="2.2" stroke-linejoin="miter"/>
<polygon points="222.10,312.60 225.85,319.10 218.35,319.10" fill="none" stroke-width="2.2" stroke-linejoin="miter"/>
<polygon points="240.00,310.60 243.75,317.10 236.25,317.10" fill="none" stroke-width="2.2" stroke-linejoin="miter"/>
<polygon points="257.80,304.10 261.55,310.60 254.05,310.60" fill="none" stroke-width="2.2" stroke-linejoin="miter"/>
<polygon points="275.80,301.60 279.55,308.10 272.05,308.10" fill="none" stroke-width="2.2" stroke-linejoin="miter"/>
<polygon points="293.70,302.60 297.45,309.10 289.95,309.10" fill="none" stroke-width="2.2" stroke-linejoin="miter"/>
<polygon points="311.60,301.10 315.35,307.60 307.85,307.60" fill="none" stroke-width="2.2" stroke-linejoin="miter"/>
<polygon points="329.60,302.60 333.35,309.10 325.85,309.10" fill="none" stroke-width="2.2" stroke-linejoin="miter"/>
<polygon points="347.50,305.80 351.25,312.30 343.75,312.30" fill="none" stroke-width="2.2" stroke-linejoin="miter"/>
<polygon points="149.40,323.90 153.15,317.40 145.65,317.40" fill="none" stroke-width="2.2" stroke-linejoin="miter"/>
<polygon points="167.60,327.40 171.35,320.90 163.85,320.90" fill="none" stroke-width="2.2" stroke-linejoin="miter"/>
<polygon points="185.90,325.40 189.65,318.90 182.15,318.90" fill="none" stroke-width="2.2" stroke-linejoin="miter"/>
<polygon points="204.00,323.90 207.75,317.40 200.25,317.40" fill="none" stroke-width="2.2" stroke-linejoin="miter"/>
<polygon points="222.10,323.40 225.85,316.90 218.35,316.90" fill="none" stroke-width="2.2" stroke-linejoin="miter"/>
<polygon points="240.00,321.90 243.75,315.40 236.25,315.40" fill="none" stroke-width="2.2" stroke-linejoin="miter"/>
<polygon points="257.80,317.40 261.55,310.90 254.05,310.90" fill="none" stroke-width="2.2" stroke-linejoin="miter"/>
<polygon points="275.80,314.70 279.55,308.20 272.05,308.20" fill="none" stroke-width="2.2" stroke-linejoin="miter"/>
<polygon points="293.70,315.90 297.45,309.40 289.95,309.40" fill="none" stroke-width="2.2" stroke-linejoin="miter"/>
<polygon points="311.60,315.20 315.35,308.70 307.85,308.70" fill="none" stroke-width="2.2" stroke-linejoin="miter"/>
<polygon points="329.60,317.40 333.35,310.90 325.85,310.90" fill="none" stroke-width="2.2" stroke-linejoin="miter"/>
<polygon points="347.50,313.60 351.25,307.10 343.75,307.10" fill="none" stroke-width="2.2" stroke-linejoin="miter"/>
<circle cx="149.40" cy="313.40" r="3.8" fill="none" stroke-width="2.0"/>
<circle cx="185.90" cy="313.90" r="3.8" fill="none" stroke-width="2.0"/>
<circle cx="204.00" cy="315.00" r="3.8" fill="none" stroke-width="2.0"/>
<circle cx="222.10" cy="316.00" r="3.8" fill="none" stroke-width="2.0"/>
<circle cx="240.00" cy="322.50" r="3.8" fill="none" stroke-width="2.0"/>
<circle cx="257.80" cy="337.60" r="3.8" fill="none" stroke-width="2.0"/>
<circle cx="275.80" cy="366.00" r="3.8" fill="none" stroke-width="2.0"/>
<circle cx="293.70" cy="397.80" r="3.8" fill="none" stroke-width="2.0"/>
<circle cx="311.60" cy="426.00" r="3.8" fill="none" stroke-width="2.0"/>
<circle cx="329.60" cy="443.90" r="3.8" fill="none" stroke-width="2.0"/>
<circle cx="347.50" cy="453.90" r="3.8" fill="none" stroke-width="2.0"/>
<path d="M88.70,317.70 C92.40,318.33 104.52,320.52 110.90,321.50 C117.28,322.48 121.35,321.57 127.00,323.60 C132.65,325.63 138.90,329.32 144.80,333.70 C150.70,338.08 156.47,340.58 162.40,349.90 C168.33,359.22 174.37,376.92 180.40,389.60 C186.43,402.28 192.50,416.60 198.60,426.00 C204.70,435.40 210.98,441.33 217.00,446.00 C223.02,450.67 228.75,451.33 234.70,454.00 C240.65,456.67 246.70,460.67 252.70,462.00 C258.70,463.33 264.68,462.00 270.70,462.00 C276.72,462.00 285.78,462.00 288.80,462.00" fill="none" stroke-width="2.25" stroke-linejoin="round"/>
<rect x="84.90" y="313.90" width="7.6" height="7.6" fill="none" stroke-width="2.7"/>
<rect x="107.00" y="317.60" width="7.8" height="7.8" fill="none" stroke-width="2.1"/>
<rect x="123.10" y="319.70" width="7.8" height="7.8" fill="none" stroke-width="2.1"/>
<rect x="140.90" y="329.80" width="7.8" height="7.8" fill="none" stroke-width="2.1"/>
<rect x="158.50" y="346.00" width="7.8" height="7.8" fill="none" stroke-width="2.1"/>
<rect x="176.50" y="385.70" width="7.8" height="7.8" fill="none" stroke-width="2.1"/>
<rect x="194.70" y="422.10" width="7.8" height="7.8" fill="none" stroke-width="2.1"/>
<rect x="213.10" y="442.10" width="7.8" height="7.8" fill="none" stroke-width="2.1"/>
<rect x="230.80" y="450.10" width="7.8" height="7.8" fill="none" stroke-width="2.1"/>
<rect x="248.80" y="458.10" width="7.8" height="7.8" fill="none" stroke-width="2.1"/>
<rect x="266.80" y="458.10" width="7.8" height="7.8" fill="none" stroke-width="2.1"/>
<rect x="284.90" y="458.10" width="7.8" height="7.8" fill="none" stroke-width="2.1"/>
<line x1="381.40" y1="284.50" x2="410.10" y2="284.50" stroke-width="2.5"/>
<circle cx="396.10" cy="284.80" r="5.3" fill="none" stroke-width="2.5"/>
<text x="418.60" y="288.60" font-size="15.3" font-weight="normal" text-anchor="start" textLength="98.3" lengthAdjust="spacingAndGlyphs" style="stroke:#000;stroke-width:0.3px">3G8 scFv-HSA</text>
<line x1="381.40" y1="310.40" x2="410.30" y2="310.40" stroke-width="2.5"/>
<rect x="390.35" y="305.05" width="11.5" height="10.3" fill="none" stroke-width="2.5"/>
<text x="418.60" y="314.20" font-size="15.3" font-weight="normal" text-anchor="start" textLength="28.5" lengthAdjust="spacingAndGlyphs" style="stroke:#000;stroke-width:0.3px">3G8</text>
<line x1="381.30" y1="336.10" x2="410.30" y2="336.10" stroke-width="2.5"/>
<polygon points="395.9,332.45 400.45,341.4 391.35,341.4" fill="none" stroke-width="3.0" stroke-linejoin="miter"/>
<text x="418.50" y="342.40" font-size="15.3" font-weight="normal" text-anchor="start" textLength="28.6" lengthAdjust="spacingAndGlyphs" style="stroke:#000;stroke-width:0.3px">HSA</text>
<line x1="381.30" y1="366.90" x2="410.30" y2="366.90" stroke-width="2.5"/>
<polygon points="391.9,362.2 400.0,362.2 395.95,371.05" fill="none" stroke-width="3.0" stroke-linejoin="miter"/>
<text x="418.60" y="372.00" font-size="15.3" font-weight="normal" text-anchor="start" textLength="51.4" lengthAdjust="spacingAndGlyphs" style="stroke:#000;stroke-width:0.3px">Vehicle</text>
</g>
</svg>
</body></html>
